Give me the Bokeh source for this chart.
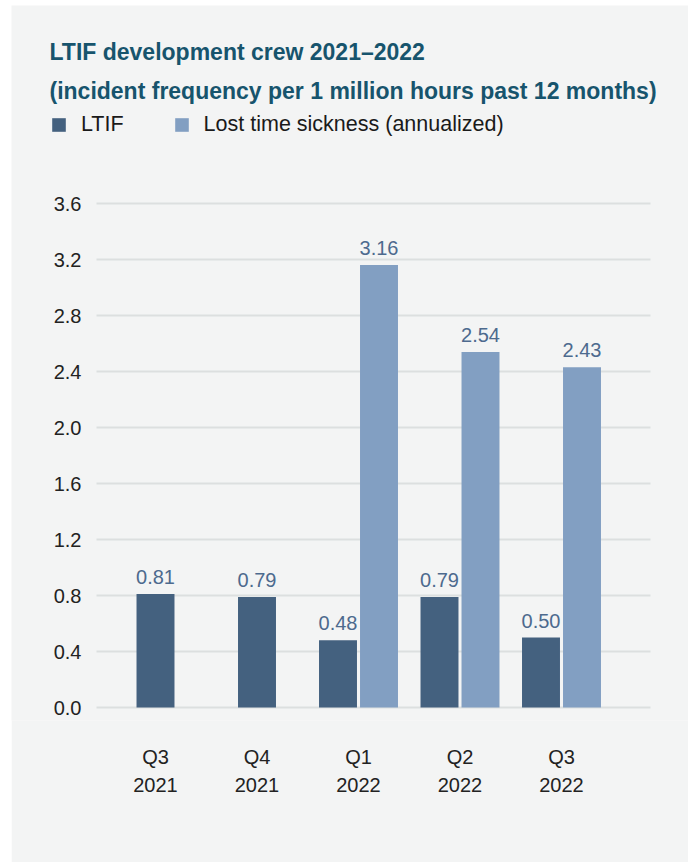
from bokeh.plotting import figure
from bokeh.models import (ColumnDataSource, Range1d, FixedTicker, Label, Legend,
                          LegendItem, NumeralTickFormatter)
from bokeh.core.properties import value
from bokeh.embed import file_html
from bokeh.resources import INLINE

# ---------------- data ----------------
quarters = ["Q3\n2021", "Q4\n2021", "Q1\n2022", "Q2\n2022", "Q3\n2022"]
ltif = [0.81, 0.79, 0.48, 0.79, 0.50]
sickness = [None, None, 3.16, 2.54, 2.43]
y_ticks = [0.0, 0.4, 0.8, 1.2, 1.6, 2.0, 2.4, 2.8, 3.2, 3.6]
series_names = ["LTIF", "Lost time sickness (annualized)"]
title_lines = ["LTIF development crew 2021\u20132022",
               "(incident frequency per 1 million hours past 12 months)"]

# ---------------- style / layout ----------------
FONT = "Liberation Sans"
BG = "#f3f4f4"
DARK = "#44617f"
LIGHT = "#829fc2"
VAL_C = "#4d6a8e"
TITLE_C = "#17546d"
TEXT_C = "#222222"
GRID_C = "#dcdfdf"
BAR_W = 0.374
OFFSET = 0.202
XPX = 101.5           # pixels per category
YPX = 140.0           # pixels per y unit
W, H = 677, 857
BOTTOM_PAD = 13       # frame pixels below the zero line
FRAME_H = 702 + BOTTOM_PAD
X0_PX = 144           # frame pixel of the first category
AXIS_PX = 85          # frame pixel of the value axis / grid start
GRID_END_PX = 639     # frame pixel where the grid lines end
LABEL_GAP = 17 / YPX

x_start = -X0_PX / XPX
x_end = (W - X0_PX) / XPX
y_start = -BOTTOM_PAD / YPX
y_end = y_start + FRAME_H / YPX
grid_x0 = (AXIS_PX - X0_PX) / XPX
grid_x1 = (GRID_END_PX - X0_PX) / XPX

idx = list(range(len(quarters)))
ltif_x = [i - OFFSET if s is not None else i for i, s in zip(idx, sickness)]
sick_idx = [i for i, s in zip(idx, sickness) if s is not None]
sick_x = [i + OFFSET for i in sick_idx]
sick_v = [sickness[i] for i in sick_idx]

src_l = ColumnDataSource(dict(x=ltif_x, top=ltif, ly=[v + LABEL_GAP for v in ltif],
                              label=[f"{v:.2f}" for v in ltif]))
src_s = ColumnDataSource(dict(x=sick_x, top=sick_v, ly=[v + LABEL_GAP for v in sick_v],
                              label=[f"{v:.2f}" for v in sick_v]))
src_g = ColumnDataSource(dict(y=y_ticks, x0=[grid_x0] * len(y_ticks),
                              x1=[grid_x1] * len(y_ticks)))

p = figure(width=W, height=H,
           x_range=Range1d(x_start, x_end), y_range=Range1d(y_start, y_end),
           output_backend="svg", toolbar_location=None,
           min_border_left=0, min_border_right=0, min_border_top=0,
           min_border_bottom=H - FRAME_H,
           background_fill_color=BG, border_fill_color=BG, outline_line_color=None,
           margin=(5, 5, 0, 11))

# grid lines at the value ticks
p.segment(x0="x0", x1="x1", y0="y", y1="y", source=src_g, line_color=GRID_C, line_width=2)

r1 = p.vbar(x="x", top="top", width=BAR_W, source=src_l, fill_color=DARK, line_color=None)
r2 = p.vbar(x="x", top="top", width=BAR_W, source=src_s, fill_color=LIGHT, line_color=None)

for src in (src_l, src_s):
    p.text(x="x", y="ly", text="label", source=src, text_align="center",
           text_baseline="middle", text_font=value(FONT),
           text_font_size="20px", text_color=VAL_C)

# axes
p.xaxis.ticker = FixedTicker(ticks=idx)
p.xaxis.major_label_overrides = {i: q for i, q in zip(idx, quarters)}
p.yaxis.ticker = FixedTicker(ticks=y_ticks)
p.yaxis.formatter = NumeralTickFormatter(format="0.0")
p.yaxis.fixed_location = grid_x0
for ax in (p.xaxis, p.yaxis):
    ax.axis_line_color = None
    ax.major_tick_line_color = None
    ax.minor_tick_line_color = None
    ax.major_tick_out = 0
    ax.major_tick_in = 0
    ax.major_label_text_font = FONT
    ax.major_label_text_font_size = "20px"
    ax.major_label_text_color = TEXT_C
p.xaxis.major_label_standoff = 34 - (BOTTOM_PAD - 4)
p.xaxis.major_label_text_line_height = 1.3
p.yaxis.major_label_standoff = 15
p.xgrid.visible = False
p.ygrid.visible = False

# title lines (screen units from the frame's bottom-left corner)
frame_bottom_page = 5 + FRAME_H
for txt, page_y in zip(title_lines, [51, 90]):
    p.add_layout(Label(x=38, y=frame_bottom_page - page_y, x_units="screen", y_units="screen",
                       text=txt, text_baseline="middle", text_font=FONT,
                       text_font_size="23px", text_font_style="bold", text_color=TITLE_C))

# legend
legend = Legend(items=[LegendItem(label=series_names[0], renderers=[r1]),
                       LegendItem(label=series_names[1], renderers=[r2])],
                location=(39, frame_bottom_page - 133 - 4), orientation="horizontal",
                glyph_width=17, glyph_height=17, label_standoff=14, spacing=49,
                padding=0, margin=0, border_line_color=None, background_fill_alpha=0,
                label_text_font=FONT, label_text_font_size="21.5px",
                label_text_color="#1a1a1a", label_height=17)
p.add_layout(legend)

open("out.html", "w").write(file_html(p, INLINE))
